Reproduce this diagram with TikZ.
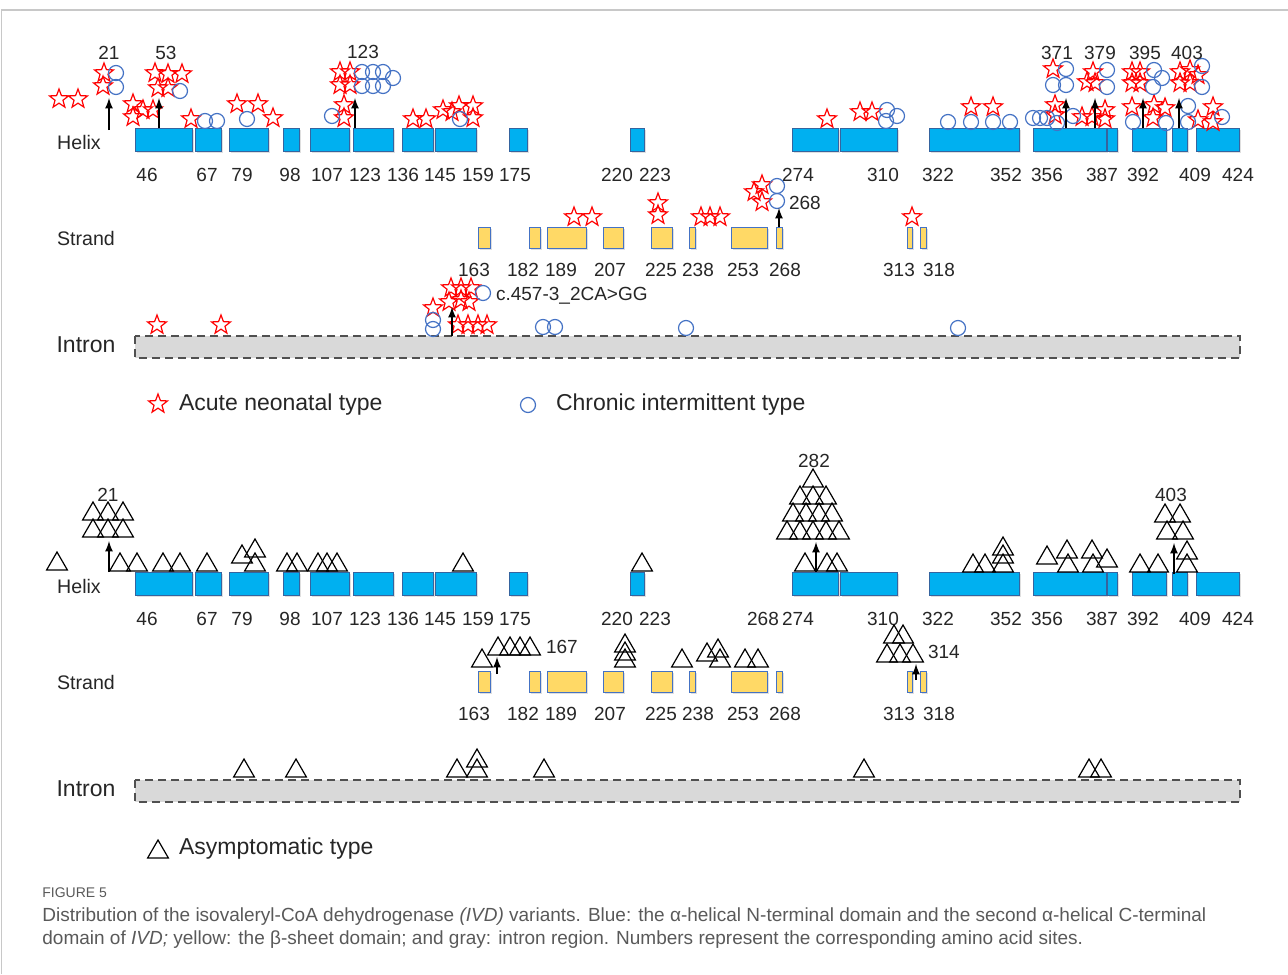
\documentclass[tikz,border=0pt]{standalone}
\usepackage{fontspec}
\setmainfont{Liberation Sans}
\usepackage{tikz}
\usetikzlibrary{shapes,shadows}
\definecolor{helixfill}{HTML}{00B0F0}
\definecolor{helixline}{HTML}{35649F}
\definecolor{strandfill}{HTML}{FFD966}
\definecolor{strandline}{HTML}{4472C4}
\definecolor{intronfill}{HTML}{D9D9D9}
\definecolor{intronline}{HTML}{505050}
\definecolor{chronblue}{HTML}{4472C4}
\definecolor{capgray}{HTML}{595959}
\definecolor{framegray}{HTML}{C8C8C8}
\tikzset{
  helixbar/.style={fill=helixfill, draw=helixline, line width=0.5pt, drop shadow={shadow xshift=1pt, shadow yshift=-1pt, opacity=0.25}},
  strandbar/.style={fill=strandfill, draw=strandline, line width=0.5pt, drop shadow={shadow xshift=1pt, shadow yshift=-1pt, opacity=0.25}},
  intronbar/.style={fill=intronfill, draw=intronline, line width=1.1pt, dash pattern=on 4pt off 2.5pt},
  acute/.style={star, star points=5, star point ratio=2.4, draw=red, line width=0.6pt, inner sep=0pt, outer sep=0pt, minimum size=10pt},
  chronic/.style={circle, draw=chronblue, line width=0.6pt, inner sep=0pt, minimum size=7.5pt},
  asym/.style={regular polygon, regular polygon sides=3, draw=black, line width=0.6pt, inner sep=0pt, outer sep=0pt, minimum size=12pt, anchor=south},
  site/.style={-latex, line width=0.8pt},
  num/.style={font=\fontsize{9.5}{11}\selectfont, text=black!85},
  rowlbl/.style={font=\fontsize{9.8}{11}\selectfont, text=black!85},
  biglbl/.style={font=\fontsize{11.5}{13}\selectfont, text=black!85},
  captxt/.style={anchor=west, inner sep=0pt, text=capgray, font=\fontsize{9.5}{11}\selectfont},
}
\begin{document}
\begin{tikzpicture}[x=0.5pt, y=-0.5pt]
  \useasboundingbox (0,0) rectangle (1288,974);
  % frame
  \draw[framegray, line width=0.6pt] (1.5,974) -- (1.5,10) -- (1288,10);
  % both panels: bars, row names and sites
  \foreach \dy [count=\p] in {0,444} {
    % helix
    \foreach \xa/\xb in {135/192,195/221,229/268,283/299,310/349,353/393,402/433,435/476,509/527,630/644,792/838,840/897,929/1019,1033/1106,1107/1117,1132/1166,1172/1187,1196/1239}
      \path[helixbar] (\xa,128+\dy) rectangle (\xb,151+\dy);
    % strand
    \foreach \xa/\xb in {478/490,529/540,547/586,603/623,651/672,689/695,731/767,776/782,907/912,920/926}
      \path[strandbar] (\xa,227+\dy) rectangle (\xb,248+\dy);
    % intron
    \path[intronbar] (135,336+\dy) rectangle (1240,358+\dy);
    \node[rowlbl] (helix\p) at (79,142+\dy) {Helix};
    \node[rowlbl] (strand\p) at (86,238+\dy) {Strand};
    \node[biglbl] (intron\p) at (86,345+\dy) {Intron};
    \foreach \x/\t [count=\i] in {147/46,207/67,242/79,290/98,327/107,365/123,403/136,440/145,478/159,515/175,617/220,655/223,798/274,883/310,938/322,1006/352,1047/356,1102/387,1143/392,1195/409,1238/424}
      \node[num] (hn\p-\i) at (\x,175+\dy) {\t};
    \foreach \x/\t [count=\i] in {474/163,523/182,561/189,610/207,661/225,698/238,743/253,785/268,899/313,939/318}
      \node[num] (sn\p-\i) at (\x,270+\dy) {\t};
  }
  \node[num] (hn268) at (763,619) {268};

  % acute neonatal type
  \foreach \x/\y [count=\i] in {59/99,78/99,104/73,103/86,155/73,168/74,182/74,158/88,168/88,133/104,133/117,143/110,153/110,191/119,237/104,258/104,273/118,340/72,350/72,340/85,350/85,344/105,344/118,413/119,426/119,443/110,452/112,459/106,473/106,473/118,827/119,860/112,872/112,971/107,993/107,1055/105,1055/115,1053/69,1093/72,1087/82,1095/83,1082/117,1092/117,1105/110,1105/119,1132/72,1140/72,1132/83,1140/83,1132/107,1154/105,1165/108,1153/118,1180/72,1190/70,1198/75,1180/83,1190/83,1198/120,1213/107,1213/122,574/217,592/217,658/203,658/215,701/217,710/217,720/217,754/192,762/185,762/202,912/217,157/325,221/325,433/308,449/302,451/288,461/288,471/288,461/300,469/302,458/325,468/325,478/325,487/325}
    \node[acute] (ac\i) at (\x,\y) {};
  % chronic intermittent type
  \foreach \x/\y [count=\i] in {116/73,116/87,180/91,205/121,217/121,247/119,332/116,362/72,373/72,383/72,393/78,362/86,373/86,383/86,460/119,887/110,897/116,886/121,948/122,971/122,993/122,1010/122,1033/118,1040/118,1047/118,1057/123,1073/116,1066/69,1053/85,1066/85,1107/70,1107/87,1154/70,1162/78,1153/87,1133/122,1166/123,1202/66,1202/87,1188/106,1188/122,1222/117,777/186,777/201,433/320,433/329,483/293,543/327,555/327,686/328,958/328}
    \node[chronic] (ch\i) at (\x,\y) {};
  % asymptomatic type
  \foreach \x/\y [count=\i] in {57/570,93/520,108/520,123/520,93/537,108/537,123/537,120/571,137/571,163/571,180/571,207/571,242/563,255/557,255/571,287/571,297/571,318/571,327/571,337/571,463/571,642/571,813/487,800/504,813/504,826/504,793/521,806/521,819/521,832/521,787/539,800/539,813/539,826/539,839/539,805/571,827/571,837/571,973/572,985/572,1003/555,1003/563,1003/572,1047/564,1067/558,1068/572,1092/558,1093/572,1107/567,1140/572,1158/572,1165/522,1180/522,1167/539,1183/539,1187/559,1187/572,482/667,498/655,510/655,520/655,530/655,625/652,625/660,625/667,682/667,707/661,718/657,720/667,745/667,758/667,894/643,903/643,887/662,900/662,913/662,244/777,296/777,457/777,477/777,477/767,544/777,864/777,1089/777,1101/777}
    \node[asym] (as\i) at (\x,\y) {};

  % hot spots
  \coordinate (s21) at (109,98);
  \coordinate (s53) at (159,98);
  \coordinate (s123) at (355,98);
  \coordinate (s371) at (1066,98);
  \coordinate (s379) at (1095,98);
  \coordinate (s395) at (1143,98);
  \coordinate (s403) at (1179,98);
  \draw[site] (109,130) -- (s21);
  \draw[site] (159,128) -- (s53);
  \draw[site] (355,128) -- (s123);
  \draw[site] (1066,128) -- (s371);
  \draw[site] (1095,128) -- (s379);
  \draw[site] (1143,128) -- (s395);
  \draw[site] (1179,128) -- (s403);
  \node[num] (t21) at (109,53) {21};
  \node[num] (t53) at (166,53) {53};
  \node[num] (t123) at (363,52) {123};
  \node[num] (t371) at (1057,53) {371};
  \node[num] (t379) at (1100,53) {379};
  \node[num] (t395) at (1145,53) {395};
  \node[num] (t403) at (1187,53) {403};
  \draw[site] (779,227) -- (779,208);
  \node[num, anchor=west] (t268) at (782,203) {268};
  \draw[site] (452,336) -- (452,307);
  \node[num, anchor=west] (tsplice) at (489,296) {c.457-3\_2CA>GG};
  % hot spots, asymptomatic
  \draw[site] (109,572) -- (109,541);
  \node[num] (b21) at (108,495) {21};
  \draw[site] (816,572) -- (816,542);
  \node[num] (b282) at (814,461) {282};
  \draw[site] (1174,574) -- (1174,543);
  \node[num] (b403) at (1171,495) {403};
  \draw[site] (497,674) -- (497,657);
  \node[num, anchor=west] (b167) at (539,647) {167};
  \draw[site] (916,680) -- (916,664);
  \node[num, anchor=west] (b314) at (921,652) {314};

  % legend
  \node[acute] (legac) at (158,404) {};
  \node[biglbl, anchor=west] (legact) at (172,405) {Acute neonatal type};
  \node[chronic] (legch) at (528,405) {};
  \node[biglbl, anchor=west] (legcht) at (549,405) {Chronic intermittent type};
  \node[asym] (legas) at (158,858) {};
  \node[biglbl, anchor=west] (legast) at (172,849) {Asymptomatic type};

  % caption
  \node[captxt, font=\fontsize{7}{8}\selectfont] (figno) at (42,893) {FIGURE 5};
  \node[captxt] (cap1) at (42,917) {Distribution of the isovaleryl-CoA dehydrogenase \textit{(IVD)} variants. Blue: the α-helical N-terminal domain and the second α-helical C-terminal};
  \node[captxt] (cap2) at (42,940) {domain of \textit{IVD;} yellow: the β-sheet domain; and gray: intron region. Numbers represent the corresponding amino acid sites.};
\end{tikzpicture}
\end{document}
